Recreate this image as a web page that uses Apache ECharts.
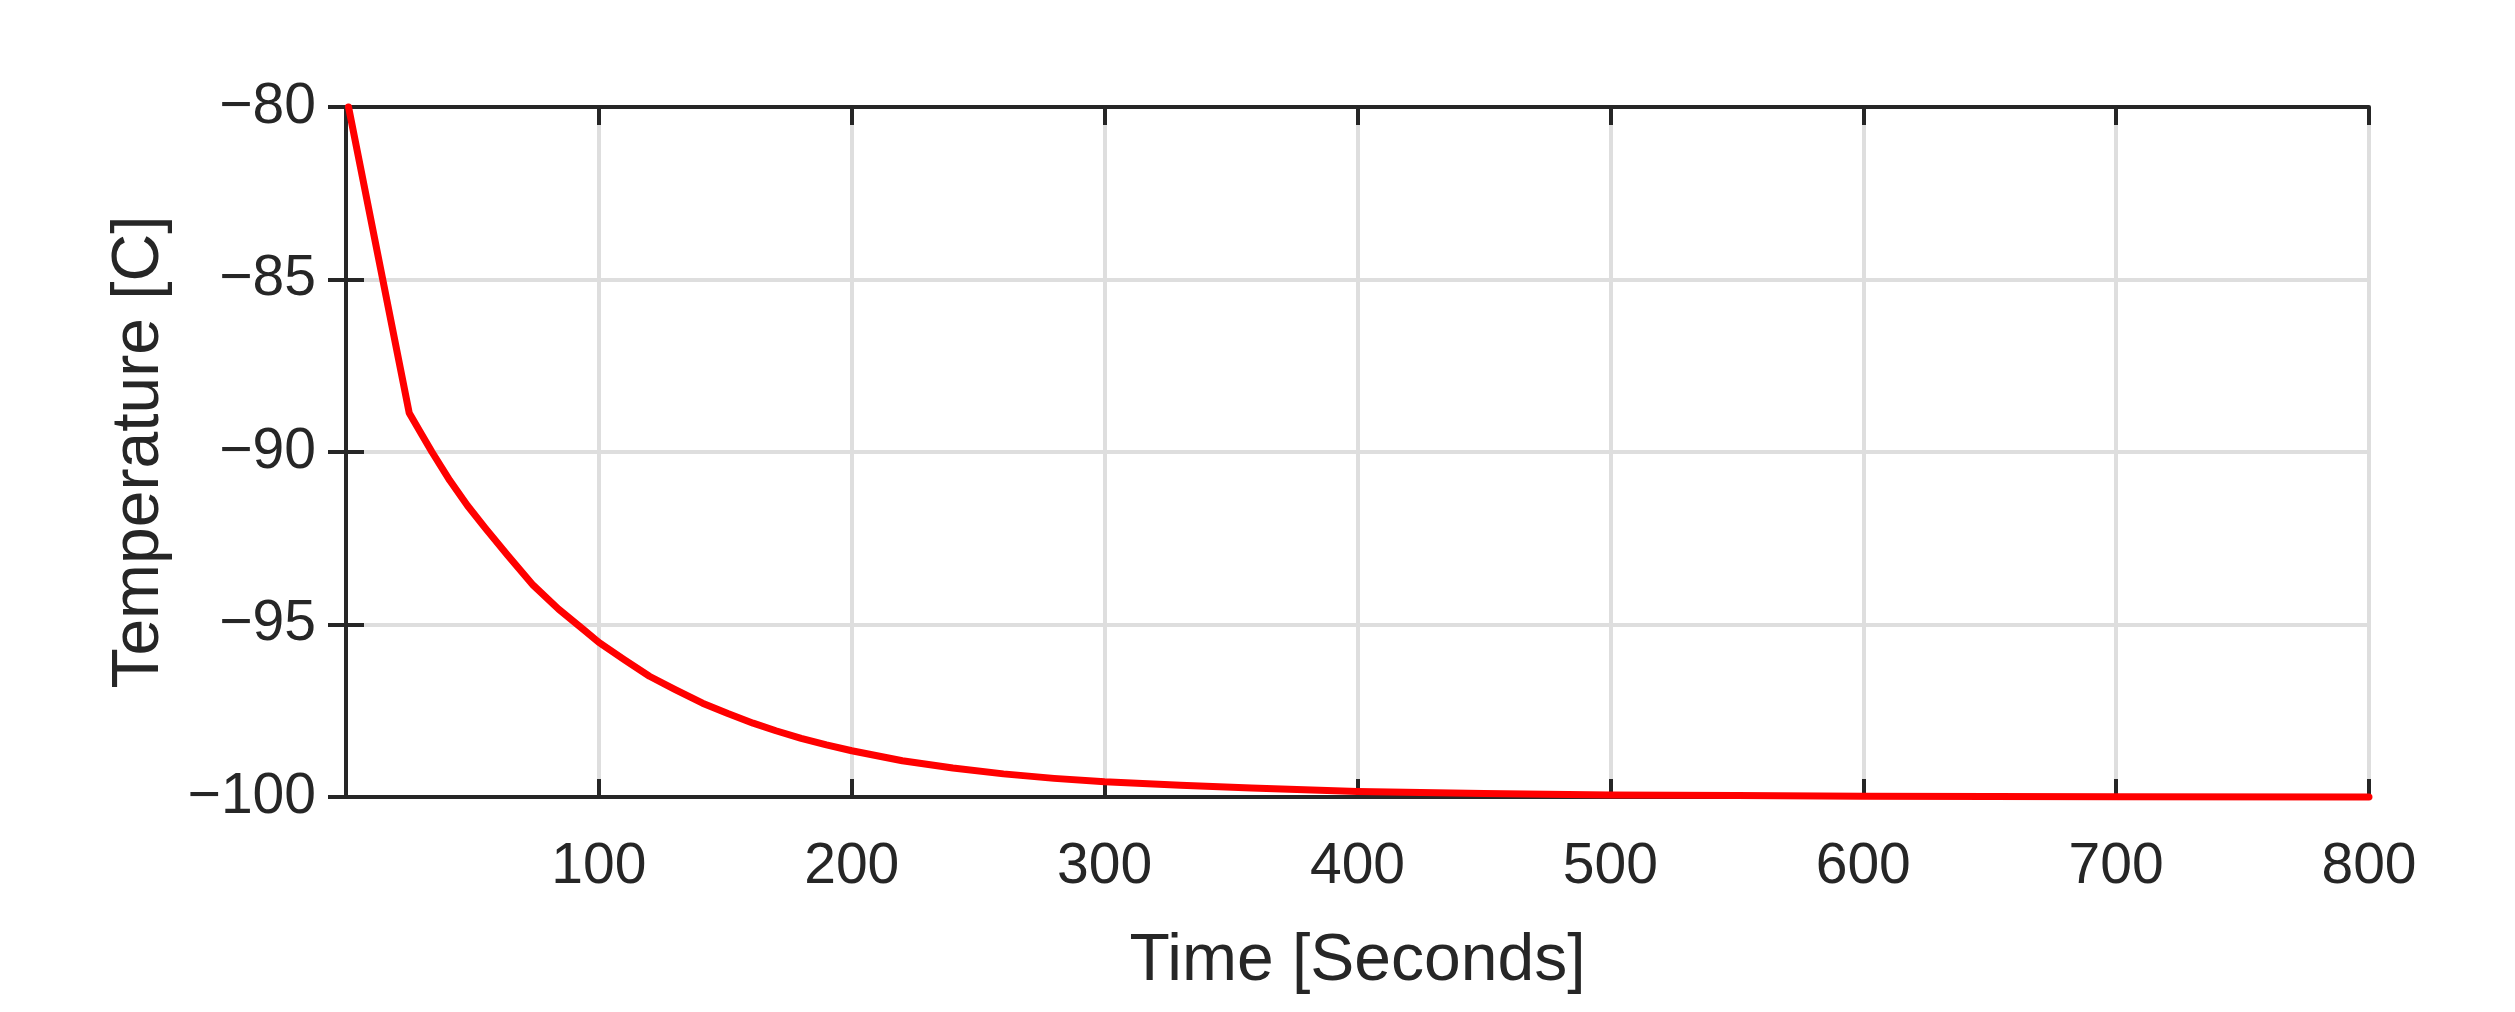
<!DOCTYPE html>
<html>
<head>
<meta charset="utf-8">
<script src="https://cdn.jsdelivr.net/npm/echarts@6/dist/echarts.min.js"></script>
<style>
  html, body { margin: 0; padding: 0; background: #fff; }
  #chart { width: 2515px; height: 1012px; }
</style>
</head>
<body>
<div id="chart"></div>
<script>
// time axis (seconds) and temperature readings
var timeSec = [1, 25, 30, 34, 41, 48, 55, 64, 74, 84, 94, 100, 110, 120, 130, 141, 151, 161, 170, 180,
               190, 200, 220, 240, 260, 280, 300, 330, 358, 400, 450, 500, 550, 600, 700, 800];
var tempC = [-80, -88.87, -89.5, -90.0, -90.82, -91.55, -92.2, -93.0, -93.86, -94.55, -95.15, -95.52,
             -96.02, -96.5, -96.88, -97.28, -97.58, -97.86, -98.08, -98.3, -98.49, -98.66, -98.95,
             -99.16, -99.33, -99.46, -99.56, -99.66, -99.74, -99.84, -99.9, -99.94, -99.96, -99.98,
             -99.99, -100];

var xTicks = { min: 0, max: 800, step: 100 };
var yTicks = { min: -100, max: -80, step: 5 };

var dark = '#262626';
var fontFam = '"Liberation Sans", Arial, Helvetica, sans-serif';

function minusSign(v) {
    return String(v).replace('-', '\u2212');
}

window.onload = function () {
    var myChart = echarts.init(document.getElementById('chart'));

    var points = [];
    for (var i = 0; i < timeSec.length; i++) {
        points.push([timeSec[i], tempC[i]]);
    }

    var tickStyle = { show: true, inside: true, length: 18, lineStyle: { color: dark, width: 4 } };
    var lineStyle = { show: true, lineStyle: { color: dark, width: 4 } };

    var option = {
        animation: false,
        grid: { left: 346, right: 146, top: 107, bottom: 215 },
        xAxis: [
            {
                type: 'value',
                min: xTicks.min, max: xTicks.max, interval: xTicks.step,
                name: 'Time [Seconds]',
                nameLocation: 'middle',
                nameGap: 132,
                nameTextStyle: { fontFamily: fontFam, fontSize: 66, color: dark },
                axisLine: lineStyle,
                axisTick: tickStyle,
                axisLabel: { showMinLabel: false, margin: 42, fontFamily: fontFam, fontSize: 57, color: dark },
                splitLine: { show: true, lineStyle: { color: '#dedede', width: 4 } }
            },
            {
                type: 'value', position: 'top',
                min: xTicks.min, max: xTicks.max, interval: xTicks.step,
                axisLine: lineStyle, axisTick: tickStyle,
                axisLabel: { show: false }, splitLine: { show: false }
            }
        ],
        yAxis: [
            {
                type: 'value',
                min: yTicks.min, max: yTicks.max, interval: yTicks.step,
                name: 'Temperature [C]',
                nameLocation: 'middle',
                nameGap: 173,
                nameTextStyle: { fontFamily: fontFam, fontSize: 66, color: dark },
                axisLine: lineStyle,
                axisTick: tickStyle,
                axisLabel: {
                    margin: 30, fontFamily: fontFam, fontSize: 57, color: dark,
                    padding: [12, 0, 0, 0],
                    formatter: minusSign
                },
                splitLine: { show: true, lineStyle: { color: '#dedede', width: 4 } }
            },
            {
                type: 'value', position: 'right',
                min: yTicks.min, max: yTicks.max, interval: yTicks.step,
                axisLine: lineStyle, axisTick: tickStyle,
                axisLabel: { show: false }, splitLine: { show: false }
            }
        ],
        series: [
            {
                type: 'line',
                data: points,
                showSymbol: false,
                clip: false,
                lineStyle: { color: '#ff0000', width: 7, cap: 'round', join: 'round' }
            }
        ]
    };

    myChart.setOption(option);
};
</script>
</body>
</html>
